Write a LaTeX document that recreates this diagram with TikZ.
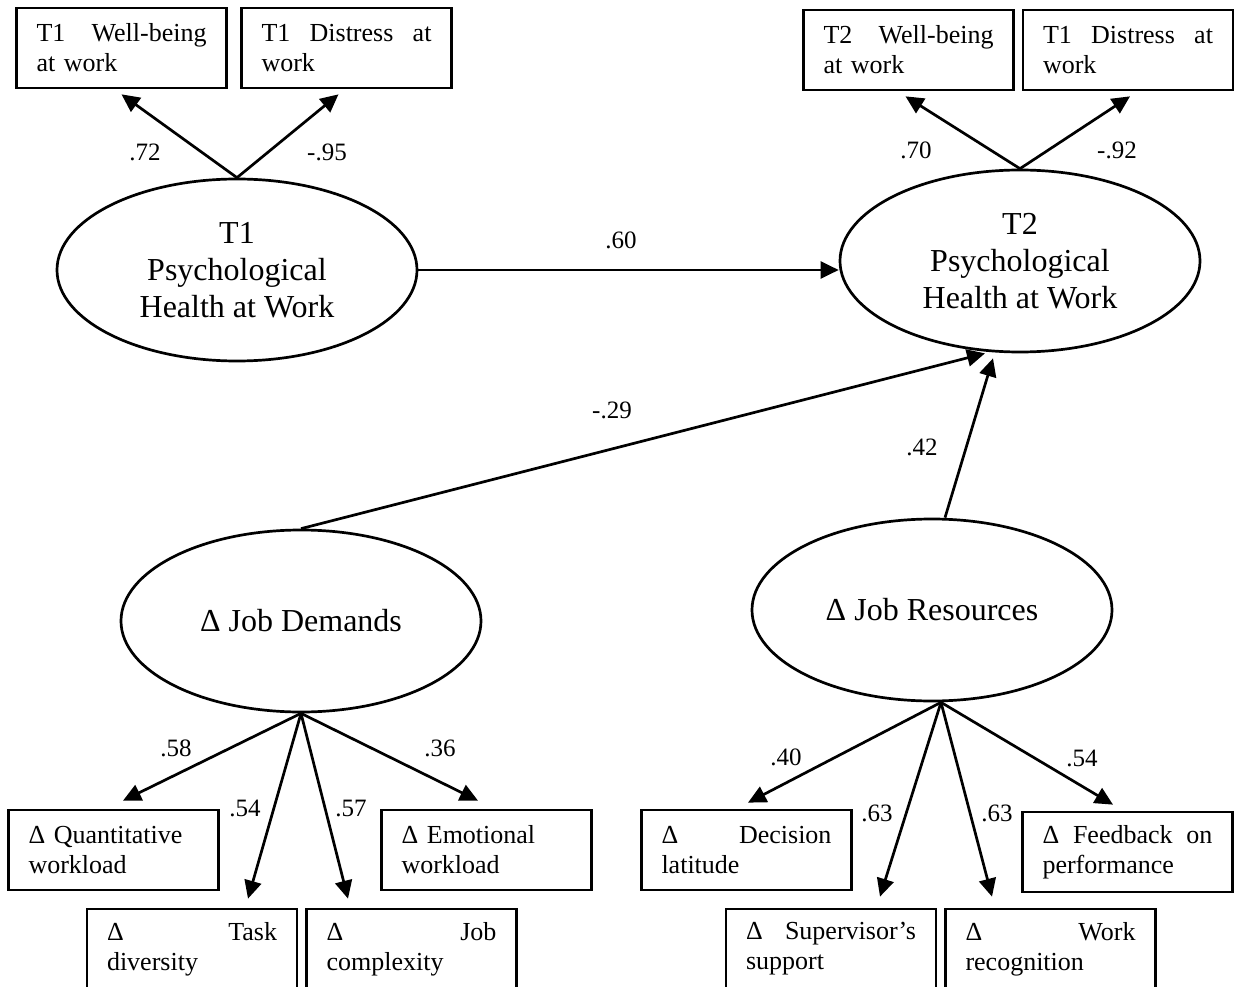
\documentclass[tikz,border=0pt]{standalone}
\usepackage{fontspec}
\setmainfont{Liberation Serif}
\usetikzlibrary{shapes.geometric,arrows.meta}

\begin{document}
\begin{tikzpicture}[x=1pt, y=-1pt,
    latent/.style = {draw, ellipse, line width=2.7pt, minimum width=360pt, minimum height=182pt, inner sep=0pt, align=center, font=\fontsize{32}{37}\selectfont},
    indicator/.style = {draw, rectangle, line width=2.7pt, minimum height=80pt, text width=170pt, inner xsep=20pt, inner ysep=0pt, align=left, font=\fontsize{26}{30}\selectfont},
    loading/.style = {line width=2.7pt, -{Triangle[length=18pt, width=17pt]}},
    coef/.style = {inner sep=0pt, font=\fontsize{25}{30}\selectfont}]
    \useasboundingbox (0,0) rectangle (1235,987);

    % latent variables
    \node [latent] (t1) at (237,270) {T1\\Psychological\\Health at Work};
    \node [latent] (t2) at (1020,261) {T2\\Psychological\\Health at Work};
    \node [latent] (jd) at (301,621) {Δ Job Demands};
    \node [latent] (jr) at (932,610) {Δ Job Resources};

    % indicators
    \node [indicator] (wb1) at (121.5,48) {T1\hfill Well-being\\at work};
    \node [indicator] (ds1) at (346.5,48) {T1\hfill Distress\hfill at\\work};
    \node [indicator] (wb2) at (908.5,50) {T2\hfill Well-being\\at work};
    \node [indicator] (ds2) at (1128,50) {T1\hfill Distress\hfill at\\work};

    \node [indicator] (qw) at (113.5,850) {Δ Quantitative\\workload};
    \node [indicator] (td) at (192,949) {Δ\hfill Task\\diversity};
    \node [indicator] (jc) at (411.5,949) {Δ\hfill Job\\complexity};
    \node [indicator] (ew) at (486.5,850) {Δ Emotional\\workload};

    \node [indicator] (dl) at (746.5,850) {Δ\hfill Decision\\latitude};
    \node [indicator] (ss) at (831,949) {Δ\hfill Supervisor’s\\support};
    \node [indicator] (wr) at (1050.5,949) {Δ\hfill Work\\recognition};
    \node [indicator] (fp) at (1127.5,852) {Δ\hfill Feedback\hfill on\\performance};

    \coordinate (jrn) at ([xshift=13pt]jr.north);
    \coordinate (jrs) at ([xshift=9pt]jr.south);

    % measurement part
    \draw [loading] (t1.north) -- ([yshift=-5pt]wb1.south);
    \draw [loading] (t1.north) -- ([xshift=-8pt,yshift=-5pt]ds1.south);
    \draw [loading] (t2.north) -- ([xshift=-3pt,yshift=-5pt]wb2.south);
    \draw [loading] (t2.north) -- ([xshift=2pt,yshift=-5pt]ds2.south);

    \draw [loading] (jd.south) -- ([xshift=9.5pt,yshift=8pt]qw.north);
    \draw [loading] (jd.south) -- ([xshift=56pt,yshift=9pt]td.north);
    \draw [loading] (jd.south) -- ([xshift=-63.5pt,yshift=9pt]jc.north);
    \draw [loading] (jd.south) -- ([xshift=-8.5pt,yshift=8pt]ew.north);

    \draw [loading] (jrs) -- ([xshift=1.5pt,yshift=6pt]dl.north);
    \draw [loading] (jrs) -- ([xshift=49pt,yshift=11pt]ss.north);
    \draw [loading] (jrs) -- ([xshift=-58.5pt,yshift=11pt]wr.north);
    \draw [loading] (jrs) -- ([xshift=-14.5pt,yshift=6pt]fp.north);

    % structural part
    \draw [loading] (t1.east) -- (t1.east -| t2.west);
    \draw [loading] (jd.north) -- ([xshift=-35pt]t2.south);
    \draw [loading] (jrn) -- ([xshift=-27pt,yshift=-5pt]t2.south);

    % coefficients
    \node [coef] (c72) at (145,152) {.72};
    \node [coef] (c95) at (327,152) {-.95};
    \node [coef] (c70) at (916,150) {.70};
    \node [coef] (c92) at (1117,150) {-.92};
    \node [coef] (c60) at (621,240) {.60};
    \node [coef] (c29) at (612,410) {-.29};
    \node [coef] (c42) at (922,447) {.42};
    \node [coef] (c58) at (176,748) {.58};
    \node [coef] (c54a) at (245,808) {.54};
    \node [coef] (c57) at (351,808) {.57};
    \node [coef] (c36) at (440,748) {.36};
    \node [coef] (c40) at (786,757) {.40};
    \node [coef] (c63a) at (877,813) {.63};
    \node [coef] (c63b) at (997,813) {.63};
    \node [coef] (c54b) at (1082,758) {.54};
\end{tikzpicture}
\end{document}
